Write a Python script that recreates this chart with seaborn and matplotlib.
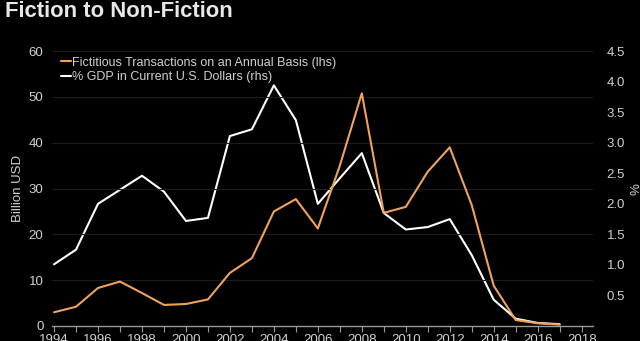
import matplotlib
matplotlib.use("Agg")
import matplotlib.pyplot as plt
import seaborn as sns
import pandas as pd

years = list(range(1994, 2018))
fictitious_bn = [3.0, 4.2, 8.3, 9.7, 7.2, 4.6, 4.8, 5.8, 11.6, 14.8, 25.0, 27.7,
                 21.3, 35.0, 50.8, 24.7, 26.0, 33.7, 39.0, 26.4, 8.8, 1.3, 0.6, 0.3]
gdp_pct = [1.01, 1.25, 2.00, 2.23, 2.46, 2.20, 1.72, 1.77, 3.11, 3.22, 3.94, 3.37,
           2.00, 2.42, 2.83, 1.85, 1.58, 1.62, 1.75, 1.16, 0.43, 0.12, 0.05, 0.03]
lhs_ticks = [0, 10, 20, 30, 40, 50, 60]
rhs_ticks = [0.5, 1.0, 1.5, 2.0, 2.5, 3.0, 3.5, 4.0, 4.5]
year_ticks = list(range(1994, 2019, 2))

df = pd.DataFrame({"year": years, "fict": fictitious_bn, "gdp": gdp_pct})

sns.set_theme(style="dark")
plt.rcParams["font.family"] = ["Liberation Sans", "DejaVu Sans"]

ORANGE = "#EFA35A"
WHITE = "#FFFFFF"
TXT = "#D0D0D0"
BG = "#000000"

fig = plt.figure(figsize=(6.4, 3.41), dpi=100, facecolor=BG)
ax = fig.add_axes([0.081, 0.044, 0.845, 0.806], facecolor=BG)
ax2 = ax.twinx()

sns.lineplot(data=df, x="year", y="fict", ax=ax, color=ORANGE, linewidth=1.5,
             label="Fictitious Transactions on an Annual Basis (lhs)", legend=False)
sns.lineplot(data=df, x="year", y="gdp", ax=ax2, color=WHITE, linewidth=1.5,
             label="% GDP in Current U.S. Dollars (rhs)", legend=False)

ax.set_xlim(1993.9, 2018.5)
ax.set_ylim(0, 60)
ax2.set_ylim(0, 4.5)
ax.set_yticks(lhs_ticks)
ax2.set_yticks(rhs_ticks)
ax.set_xticks(year_ticks)
ax.set_xticks(years + [2018], minor=True)

ax.grid(axis="y", color="#1c1c1c", linewidth=0.8)
ax.grid(axis="x", visible=False)
ax2.grid(False)

for a in (ax, ax2):
    for s in a.spines.values():
        s.set_visible(False)
ax.spines["bottom"].set_visible(True)
ax.spines["bottom"].set_color("#9a9a9a")
ax.spines["bottom"].set_linewidth(1.0)

ax.tick_params(axis="x", which="both", colors="#9a9a9a", direction="out",
               length=4, width=0.8, labelcolor=TXT, labelsize=9.5, pad=2, bottom=True)
ax.tick_params(axis="y", length=0, labelcolor=TXT, labelsize=9.5, pad=6)
ax2.tick_params(axis="y", length=0, labelcolor=TXT, labelsize=9.5, pad=10)

ax.set_xlabel("")
ax.set_ylabel("Billion USD", color=TXT, fontsize=9.5, labelpad=3)
ax2.set_ylabel("%", color=TXT, fontsize=9.5, labelpad=4)

h1, l1 = ax.get_legend_handles_labels()
h2, l2 = ax2.get_legend_handles_labels()
leg = ax.legend(h1 + h2, l1 + l2, loc="upper left", bbox_to_anchor=(0.0, 1.012),
                frameon=False, fontsize=9, handlelength=0.8, handletextpad=0.1,
                labelspacing=0.2, borderaxespad=0.3)
for t in leg.get_texts():
    t.set_color(TXT)
ax.set_zorder(ax2.get_zorder() + 1)
ax.patch.set_visible(False)
ax2.patch.set_facecolor(BG)

fig.text(0.008, 0.965, "Fiction to Non-Fiction", color="#E8E8E8", fontsize=15.8,
         fontweight="bold", ha="left", va="center")

fig.savefig("out.png", dpi=100, facecolor=BG)
